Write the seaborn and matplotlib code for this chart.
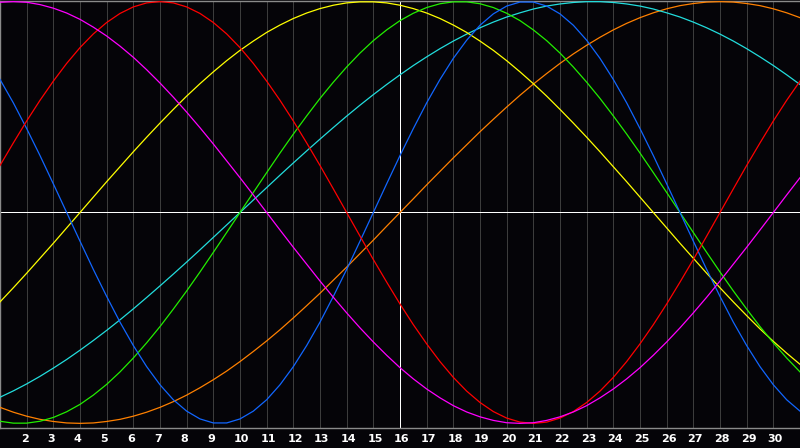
import pandas as pd
import matplotlib
matplotlib.use("Agg")
import matplotlib.pyplot as plt
import matplotlib.transforms as mtrans
import seaborn as sns

# half-day samples from day 1 to day 31
days = [1 + i / 2 for i in range(61)]
tick_days = list(range(2, 31))
today = 16

# cycle values in percent, every half day
blue = [63.1, 52.0, 39.8, 27.0, 13.6, 0, -13.6, -27.0, -39.8, -52.0, -63.1, -73.1,
        -81.7, -88.8, -94.2, -97.9, -99.8, -99.8, -97.9, -94.2, -88.8, -81.7, -73.1,
        -63.1, -52.0, -39.8, -27.0, -13.6, 0, 13.6, 27.0, 39.8, 52.0, 63.1, 73.1, 81.7,
        88.8, 94.2, 97.9, 99.8, 99.8, 97.9, 94.2, 88.8, 81.7, 73.1, 63.1, 52.0, 39.8,
        27.0, 13.6, 0, -13.6, -27.0, -39.8, -52.0, -63.1, -73.1, -81.7, -88.8, -94.2]
red = [22.3, 33.0, 43.4, 53.2, 62.3, 70.7, 78.2, 84.7, 90.1, 94.4, 97.5, 99.4, 100,
       99.4, 97.5, 94.4, 90.1, 84.7, 78.2, 70.7, 62.3, 53.2, 43.4, 33.0, 22.3, 11.2, 0,
       -11.2, -22.3, -33.0, -43.4, -53.2, -62.3, -70.7, -78.2, -84.7, -90.1, -94.4,
       -97.5, -99.4, -100, -99.4, -97.5, -94.4, -90.1, -84.7, -78.2, -70.7, -62.3,
       -53.2, -43.4, -33.0, -22.3, -11.2, 0, 11.2, 22.3, 33.0, 43.4, 53.2, 62.3]
green = [-99.0, -99.9, -99.9, -99.0, -97.2, -94.5, -91.0, -86.6, -81.5, -75.6, -69.0,
         -61.8, -54.1, -45.8, -37.2, -28.2, -18.9, -9.5, 0, 9.5, 18.9, 28.2, 37.2, 45.8,
         54.1, 61.8, 69.0, 75.6, 81.5, 86.6, 91.0, 94.5, 97.2, 99.0, 99.9, 99.9, 99.0,
         97.2, 94.5, 91.0, 86.6, 81.5, 75.6, 69.0, 61.8, 54.1, 45.8, 37.2, 28.2, 18.9,
         9.5, 0, -9.5, -18.9, -28.2, -37.2, -45.8, -54.1, -61.8, -69.0, -75.6]
magenta = [99.7, 100, 99.7, 98.6, 96.9, 94.6, 91.6, 87.9, 83.7, 78.9, 73.6, 67.7, 61.4,
           54.7, 47.6, 40.2, 32.5, 24.5, 16.5, 8.3, 0, -8.3, -16.5, -24.5, -32.5, -40.2,
           -47.6, -54.7, -61.4, -67.7, -73.6, -78.9, -83.7, -87.9, -91.6, -94.6, -96.9,
           -98.6, -99.7, -100, -99.7, -98.6, -96.9, -94.6, -91.6, -87.9, -83.7, -78.9,
           -73.6, -67.7, -61.4, -54.7, -47.6, -40.2, -32.5, -24.5, -16.5, -8.3, 0, 8.3,
           16.5]
yellow = [-42.4, -35.7, -28.8, -21.7, -14.6, -7.3, 0, 7.3, 14.6, 21.7, 28.8, 35.7, 42.4,
          48.9, 55.2, 61.1, 66.7, 72.0, 76.9, 81.3, 85.4, 88.9, 92.0, 94.6, 96.7, 98.3,
          99.4, 99.9, 99.9, 99.4, 98.3, 96.7, 94.6, 92.0, 88.9, 85.4, 81.3, 76.9, 72.0,
          66.7, 61.1, 55.2, 48.9, 42.4, 35.7, 28.8, 21.7, 14.6, 7.3, 0, -7.3, -14.6,
          -21.7, -28.8, -35.7, -42.4, -48.9, -55.2, -61.1, -66.7, -72.0]
cyan = [-87.6, -84.6, -81.3, -77.7, -73.8, -69.7, -65.3, -60.7, -55.9, -50.9, -45.7,
        -40.3, -34.8, -29.2, -23.5, -17.7, -11.8, -5.9, 0, 5.9, 11.8, 17.7, 23.5, 29.2,
        34.8, 40.3, 45.7, 50.9, 55.9, 60.7, 65.3, 69.7, 73.8, 77.7, 81.3, 84.6, 87.6,
        90.3, 92.7, 94.7, 96.5, 97.9, 98.9, 99.6, 100, 100, 99.6, 98.9, 97.9, 96.5,
        94.7, 92.7, 90.3, 87.6, 84.6, 81.3, 77.7, 73.8, 69.7, 65.3, 60.7]
orange = [-92.4, -94.7, -96.6, -98.1, -99.1, -99.8, -100, -99.8, -99.1, -98.1, -96.6,
          -94.7, -92.4, -89.7, -86.6, -83.1, -79.3, -75.2, -70.7, -65.9, -60.9, -55.6,
          -50.0, -44.2, -38.3, -32.1, -25.9, -19.5, -13.1, -6.5, 0, 6.5, 13.1, 19.5,
          25.9, 32.1, 38.3, 44.2, 50.0, 55.6, 60.9, 65.9, 70.7, 75.2, 79.3, 83.1, 86.6,
          89.7, 92.4, 94.7, 96.6, 98.1, 99.1, 99.8, 100, 99.8, 99.1, 98.1, 96.6, 94.7,
          92.4]

series = {"orange": orange, "cyan": cyan, "yellow": yellow, "green": green,
          "blue": blue, "red": red, "magenta": magenta}
colors = {"orange": "#ff8000", "cyan": "#22dddd", "yellow": "#ffff00",
          "green": "#22ee00", "blue": "#1166ff", "red": "#ff0000",
          "magenta": "#ff00ff"}

rows = []
for name, vals in series.items():
    for d, v in zip(days, vals):
        rows.append({"day": d, "value": v, "cycle": name})
df = pd.DataFrame(rows)

bg = "#050408"
fig = plt.figure(figsize=(8, 4.48), dpi=100, facecolor=bg)
ax = fig.add_axes([0.0, 20 / 448, 1.0, 427 / 448])
ax.set_facecolor(bg)

# day grid, today marker and zero line
for d in tick_days:
    if d != today:
        ax.axvline(d, color="#3c3c3c", lw=0.6, zorder=1, antialiased=False)
ax.axvline(today, color="white", lw=0.6, zorder=2, antialiased=False)
ax.axhline(0, color="white", lw=0.6, zorder=2, antialiased=False)

sns.lineplot(data=df, x="day", y="value", hue="cycle", palette=colors,
             legend=False, lw=0.9, ax=ax, zorder=3)

ax.set_xlim(1, 31)
ax.set_ylim(-102.2, 100.3)
ax.set_xticks(tick_days)
ax.set_xticklabels([str(d) for d in tick_days], color="white", ha="left",
                   fontsize=8, fontweight="bold", family="DejaVu Sans")
ax.tick_params(axis="x", length=0, pad=4)
# labels start a few pixels left of their grid line
shift = mtrans.ScaledTranslation(-6 / 100, 0, fig.dpi_scale_trans)
for lbl in ax.get_xticklabels():
    lbl.set_transform(lbl.get_transform() + shift)
ax.set_yticks([])
ax.set_xlabel("")
ax.set_ylabel("")
for side in ["left", "top", "bottom"]:
    ax.spines[side].set_color("#8a8a8a")
    ax.spines[side].set_linewidth(1.0)
ax.spines["right"].set_visible(False)

fig.savefig("out.png", dpi=100, facecolor=bg)
